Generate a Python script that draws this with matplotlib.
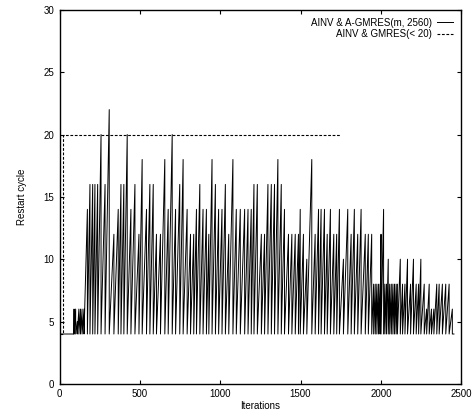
import numpy as np
import matplotlib
matplotlib.use("Agg")
import matplotlib.pyplot as plt

plt.rcParams['font.family'] = ['Liberation Sans', 'DejaVu Sans']

# restart cycle drops: iteration where the cycle resets, and the peak reached
spike_iter = [90, 100, 110, 120, 130, 140, 152,
              173, 189, 206, 220, 237, 258, 283, 309, 338, 365, 382, 400, 421, 444,
              469, 494, 514, 541, 562, 583, 603, 628, 655, 676, 701, 722, 748, 769,
              794, 815, 835, 852, 873, 893, 914, 929, 949, 970, 990, 1011, 1032, 1053,
              1079, 1100, 1125, 1152, 1173, 1193, 1210, 1231, 1256, 1276, 1297, 1318,
              1338, 1359, 1380, 1400, 1425, 1446, 1467, 1487, 1498, 1518, 1539, 1570,
              1591, 1612, 1628, 1649, 1666, 1686, 1707, 1725, 1742, 1767, 1794, 1815,
              1835, 1856, 1877, 1903, 1922, 1943,
              1955, 1965, 1975, 1985, 1995, 2001, 2017, 2025, 2035, 2046, 2055, 2065,
              2075, 2085, 2095, 2103, 2121, 2135, 2150, 2166, 2185, 2203, 2220, 2235,
              2249, 2270, 2285, 2301, 2315, 2330, 2348, 2363, 2383, 2404, 2425, 2445]
spike_peak = [6, 6, 5, 6, 6, 6, 6,
              14, 16, 16, 16, 16, 20, 16, 22, 12, 14, 16, 16, 20, 14,
              16, 12, 18, 14, 16, 16, 12, 12, 18, 14, 20, 14, 16, 18,
              14, 12, 12, 14, 16, 14, 14, 12, 18, 16, 14, 14, 16, 12,
              18, 14, 14, 14, 14, 14, 16, 16, 12, 12, 16, 16,
              16, 18, 16, 14, 12, 12, 12, 12, 14, 12, 10, 18,
              12, 14, 14, 14, 12, 14, 12, 12, 14, 10, 14, 12,
              14, 12, 14, 12, 12, 12,
              8, 8, 8, 8, 8, 12, 14, 8, 8, 10, 8, 8,
              8, 8, 8, 8, 10, 8, 8, 10, 8, 10, 8, 8,
              10, 8, 6, 8, 6, 6, 8, 8, 8, 8, 8, 6]
base_cycle = 4
last_iter = 2455

# fixed restart length GMRES(<20)
gm_iter = [0, 20, 20, 1750]
gm_cycle = [4, 4, 20, 20]

# zigzag: rise from the base to the peak, then drop back at the reset
xs = [0]
ys = [base_cycle]
prev = spike_iter[0] - 1
xs.append(prev)
ys.append(base_cycle)
for it, pk in zip(spike_iter, spike_peak):
    xs += [it, it]
    ys += [pk, base_cycle]
xs.append(last_iter)
ys.append(base_cycle)

fig = plt.figure(figsize=(4.73, 4.11), dpi=100)
ax = fig.add_axes([0.126, 0.066, 0.849, 0.910])

ax.plot(xs, ys, color='black', lw=0.7, label='AINV & A-GMRES(m, 2560)')
ax.plot(gm_iter, gm_cycle, color='black', lw=0.8, ls=(0, (2.5, 1.5)),
        label='AINV & GMRES(< 20)')

ax.set_xlim(0, 2500)
ax.set_ylim(0, 30)
ax.set_xticks([0, 500, 1000, 1500, 2000, 2500])
ax.set_yticks([0, 5, 10, 15, 20, 25, 30])
ax.tick_params(direction='in', top=True, right=True, length=3, width=0.8,
               labelsize=7, pad=4)
for s in ax.spines.values():
    s.set_linewidth(1.0)

ax.set_xlabel('Iterations', fontsize=7, labelpad=1)
ax.set_ylabel('Restart cycle', fontsize=7, labelpad=12)

ax.legend(loc='upper right', frameon=False, fontsize=7, markerfirst=False,
          handlelength=1.7, handletextpad=0.5, labelspacing=0.15,
          borderaxespad=0.4)

fig.savefig('out.png', dpi=100)
